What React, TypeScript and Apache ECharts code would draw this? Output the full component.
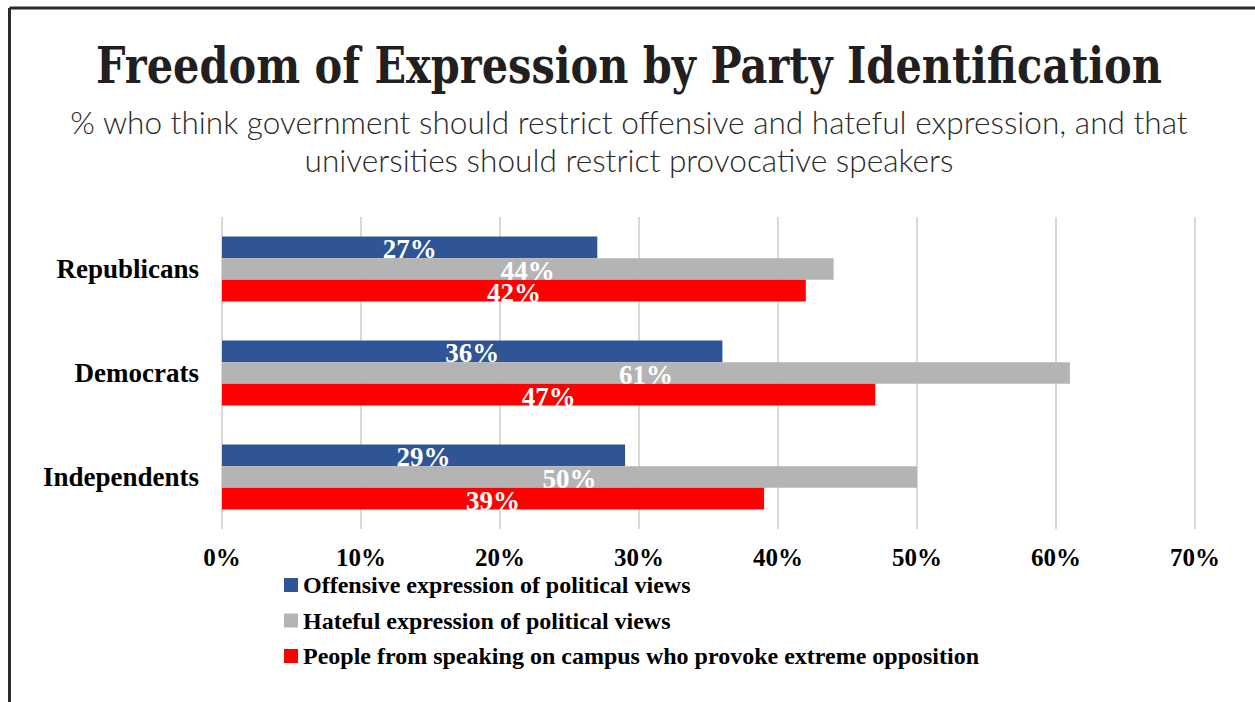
import React, { useEffect, useRef } from "react";
import * as echarts from "echarts";

const categories = ["Republicans", "Democrats", "Independents"];
const offensive = [27, 36, 29];
const hateful = [44, 61, 50];
const provoke = [42, 47, 39];
const seriesNames = [
  "Offensive expression of political views",
  "Hateful expression of political views",
  "People from speaking on campus who provoke extreme opposition",
];
const seriesColors = ["#2F5597", "#B4B4B4", "#FF0000"];

export default function App() {
  const ref = useRef<HTMLDivElement>(null);
  useEffect(() => {
    const chart = echarts.init(ref.current!, null, { renderer: "svg" });
    const values = [offensive, hateful, provoke];
    chart.setOption({
      animation: false,
      backgroundColor: "#ffffff",
      graphic: [
        {
          type: "line",
          shape: { x1: 9.5, y1: 8, x2: 1255, y2: 8 },
          style: { stroke: "#2b2b2b", lineWidth: 3 },
        },
        {
          type: "line",
          shape: { x1: 9.5, y1: 8, x2: 9.5, y2: 702 },
          style: { stroke: "#2b2b2b", lineWidth: 3 },
        },
        {
          type: "text",
          x: 629,
          y: 66,
          scaleX: 0.83,
          style: {
            text: "Freedom of Expression by Party Identification",
            font: "bold 50px 'DejaVu Serif'",
            fill: "#231f20",
            align: "center",
            verticalAlign: "middle",
          },
        },
        {
          type: "text",
          x: 629,
          y: 122,
          style: {
            text: "% who think government should restrict offensive and hateful expression, and that",
            font: "300 31.6px Lato",
            fill: "#2a2a2a",
            align: "center",
            verticalAlign: "middle",
          },
        },
        {
          type: "text",
          x: 629,
          y: 160,
          style: {
            text: "universities should restrict provocative speakers",
            font: "300 31.6px Lato",
            fill: "#2a2a2a",
            align: "center",
            verticalAlign: "middle",
          },
        },
      ],
      legend: {
        orient: "vertical",
        left: 284,
        top: 573,
        padding: 0,
        itemWidth: 14,
        itemHeight: 14,
        itemGap: 11.5,
        icon: "rect",
        data: seriesNames,
        textStyle: {
          fontFamily: "'Liberation Serif'",
          fontWeight: "bold",
          fontSize: 24,
          color: "#000",
        },
      },
      grid: { left: 222, right: 60, top: 217, bottom: 173, containLabel: false },
      xAxis: {
        type: "value",
        min: 0,
        max: 70,
        interval: 10,
        axisLine: { show: false },
        axisTick: { show: false },
        splitLine: { lineStyle: { color: "#d9d9d9", width: 2 } },
        axisLabel: {
          formatter: "{value}%",
          margin: 16,
          fontFamily: "'Liberation Serif'",
          fontWeight: "bold",
          fontSize: 25,
          color: "#000",
        },
      },
      yAxis: {
        type: "category",
        inverse: true,
        data: categories,
        axisLine: { show: false },
        axisTick: { show: false },
        axisLabel: {
          margin: 23,
          fontFamily: "'Liberation Serif'",
          fontWeight: "bold",
          fontSize: 27,
          color: "#000",
        },
      },
      series: seriesNames.map((name, i) => ({
        type: "bar",
        name,
        data: values[i],
        barGap: "0%",
        barCategoryGap: "37.5%",
        itemStyle: { color: seriesColors[i] },
        label: {
          show: true,
          position: "inside",
          offset: [0, 2],
          formatter: "{c}%",
          fontFamily: "'Liberation Serif'",
          fontWeight: "bold",
          fontSize: 27,
          lineHeight: 19,
          color: "#fff",
        },
      })),
    });
    return () => chart.dispose();
  }, []);
  return (
    <div
      ref={ref}
      style={{ position: "absolute", left: 0, top: 0, width: 1255, height: 702 }}
    />
  );
}
